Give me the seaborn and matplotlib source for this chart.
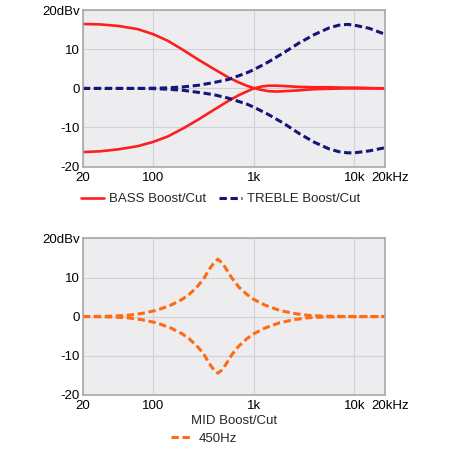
import matplotlib
matplotlib.use("Agg")
import matplotlib.pyplot as plt
import matplotlib.transforms as mtransforms
import seaborn as sns

# -------------------------------
# Data
# -------------------------------
bass_freq = [20, 30, 45, 70, 100, 140, 200, 280, 400, 560, 700, 850, 1000,
             1200, 1400, 1700, 2000, 2800, 4000, 5600, 8000, 10000, 14000, 20000]
bass_boost = [16.5, 16.4, 16.0, 15.2, 13.9, 12.2, 9.8, 7.4, 5.0, 2.8, 1.6, 0.7, 0.1,
              -0.4, -0.7, -0.8, -0.7, -0.5, -0.2, -0.1, 0.0, 0.0, 0.0, 0.0]
bass_cut = [-16.3, -16.1, -15.6, -14.8, -13.7, -12.3, -10.2, -8.0, -5.5, -3.2, -1.8, -0.8, 0.0,
            0.5, 0.7, 0.7, 0.6, 0.4, 0.3, 0.3, 0.2, 0.2, 0.1, 0.0]

treble_freq = [20, 45, 70, 100, 140, 200, 280, 400, 560, 700, 850, 1000, 1400,
               2000, 2800, 4000, 5600, 7000, 8500, 10000, 14000, 20000]
treble_boost = [0.0, 0.0, 0.0, 0.05, 0.15, 0.4, 0.8, 1.5, 2.3, 3.2, 4.0, 4.8, 6.8,
                9.2, 11.6, 13.8, 15.5, 16.2, 16.4, 16.2, 15.4, 13.9]
treble_cut = [0.0, 0.0, 0.0, -0.05, -0.2, -0.5, -1.0, -1.6, -2.5, -3.3, -4.0, -4.8, -6.7,
              -9.0, -11.5, -13.8, -15.5, -16.2, -16.5, -16.5, -16.0, -15.2]

mid_freq = [20, 39, 55, 77, 108, 149, 194, 228, 269, 298, 323, 346, 372, 403, 440,
            480, 520, 560, 600, 650, 720, 850, 1000, 1300, 1800, 2500, 3500, 5000, 10000, 20000]
mid_boost = [0.0, 0.1, 0.3, 0.8, 1.6, 2.9, 4.4, 5.7, 7.4, 8.8, 10.0, 11.3, 12.6, 13.8, 14.7,
             13.8, 12.6, 11.3, 10.0, 8.8, 7.4, 5.7, 4.4, 2.9, 1.6, 0.8, 0.3, 0.1, 0.0, 0.0]
mid_cut = [0.0, -0.1, -0.3, -0.8, -1.6, -2.9, -4.4, -5.7, -7.4, -8.7, -9.9, -11.2, -12.5, -13.7, -14.5,
           -13.7, -12.5, -11.2, -9.9, -8.7, -7.4, -5.7, -4.4, -2.9, -1.6, -0.8, -0.3, -0.1, 0.0, 0.0]

x_ticks = [20, 100, 1000, 10000, 20000]
x_labels = ["20", "100", "1k", "10k", "20kHz"]
y_ticks = [-20, -10, 0, 10, 20]
y_labels = ["-20", "-10", "0", "10", "20dBv"]

RED = "#ff1e1e"
NAVY = "#16167a"
ORANGE = "#ff6a14"
DASH = (0, (2.4, 1.2))

sns.set_theme(style="white")
plt.rcParams["font.family"] = ["Liberation Sans", "DejaVu Sans"]
plt.rcParams["font.size"] = 9.5

fig = plt.figure(figsize=(4.5, 4.5), dpi=100)
ax1 = fig.add_axes([0.184, 0.630, 0.671, 0.347])
ax2 = fig.add_axes([0.184, 0.123, 0.671, 0.347])


def style_axes(ax):
    ax.set_xscale("log")
    ax.set_xlim(20, 20000)
    ax.set_ylim(-20, 20)
    ax.set_facecolor("#ededf0")
    ax.set_xticks(x_ticks)
    ax.set_xticklabels(x_labels)
    ax.set_yticks(y_ticks)
    ax.set_yticklabels(y_labels)
    ax.minorticks_off()
    ax.tick_params(axis="both", length=0, labelsize=9.5, colors="black")
    ax.tick_params(axis="x", pad=4)
    ax.tick_params(axis="y", pad=2)
    ax.grid(True, color="#d2d2d6", linewidth=0.8)
    ax.set_axisbelow(True)
    for sp in ax.spines.values():
        sp.set_color("#a8a8a8")
        sp.set_linewidth(1.2)
    ax.set_xlabel("")
    ax.set_ylabel("")
    # nudge the last x label ("20kHz") a little to the right
    last = ax.get_xticklabels()[-1]
    last.set_transform(last.get_transform() + mtransforms.ScaledTranslation(4 / 72, 0, fig.dpi_scale_trans))


# -------------------------------
# Top: BASS / TREBLE
# -------------------------------
sns.lineplot(x=bass_freq, y=bass_boost, color=RED, linewidth=1.9, ax=ax1, label="BASS Boost/Cut")
sns.lineplot(x=bass_freq, y=bass_cut, color=RED, linewidth=1.9, ax=ax1)
sns.lineplot(x=treble_freq, y=treble_boost, color=NAVY, linewidth=2.2, ax=ax1,
             linestyle=DASH, label="TREBLE Boost/Cut")
sns.lineplot(x=treble_freq, y=treble_cut, color=NAVY, linewidth=2.2, ax=ax1, linestyle=DASH)
style_axes(ax1)
ax1.legend(loc="upper left", bbox_to_anchor=(-0.045, -0.095), ncol=2, frameon=False,
           handlelength=1.7, handletextpad=0.4, columnspacing=1.0, fontsize=9.5)

# -------------------------------
# Bottom: MID
# -------------------------------
sns.lineplot(x=mid_freq, y=mid_boost, color=ORANGE, linewidth=2.2, ax=ax2,
             linestyle=DASH, label="450Hz")
sns.lineplot(x=mid_freq, y=mid_cut, color=ORANGE, linewidth=2.2, ax=ax2, linestyle=DASH)
style_axes(ax2)
ax2.set_xlabel("MID Boost/Cut", fontsize=9.5, labelpad=2)
ax2.legend(loc="upper center", bbox_to_anchor=(0.40, -0.165), frameon=False,
           handlelength=1.6, handletextpad=0.5, fontsize=9.5)

plt.savefig("out.png", dpi=100)
